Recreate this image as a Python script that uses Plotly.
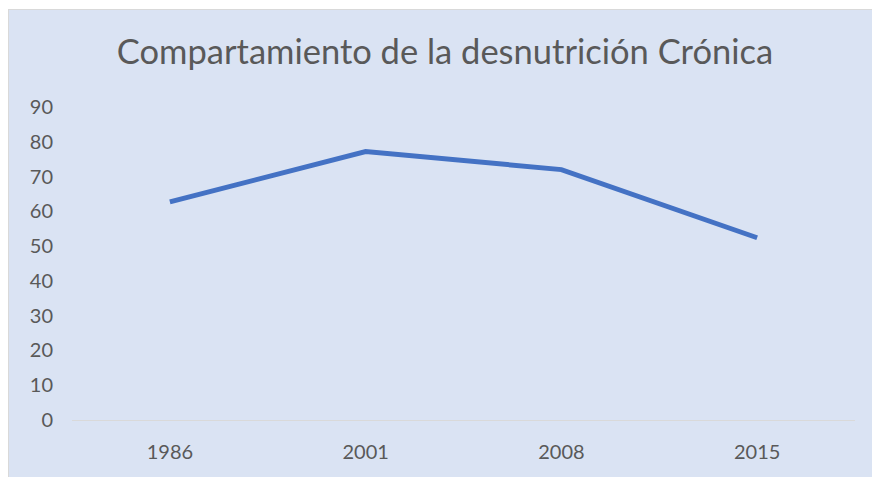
import plotly.graph_objects as go

years = ["1986", "2001", "2008", "2015"]
values = [62.7, 77.2, 72.0, 52.4]
y_ticks = [0, 10, 20, 30, 40, 50, 60, 70, 80, 90]
title_text = "Compartamiento de la desnutrición Crónica"

W, H = 872, 477
L, R, T, B = 72, 17, 107, 57
pw, ph = W - L - R, H - T - B

def px_x(px):
    return (px - L) / pw

def px_y(py):
    return (H - B - py) / ph

fig = go.Figure()
fig.add_trace(go.Scatter(
    x=years, y=values, mode="lines",
    line=dict(color="#4472c4", width=5),
    hoverinfo="x+y",
))

# white outer margin on the left and top, then the chart-area border
fig.add_shape(type="rect", xref="paper", yref="paper",
              x0=px_x(-2), x1=px_x(8), y0=px_y(H + 2), y1=px_y(-2),
              fillcolor="white", line=dict(width=0), layer="below")
fig.add_shape(type="rect", xref="paper", yref="paper",
              x0=px_x(-2), x1=px_x(W + 2), y0=px_y(9), y1=px_y(-2),
              fillcolor="white", line=dict(width=0), layer="below")
fig.add_shape(type="line", xref="paper", yref="paper",
              x0=px_x(8.5), x1=px_x(8.5), y0=px_y(H + 2), y1=px_y(9),
              line=dict(color="#d9d9d9", width=1), layer="below")
fig.add_shape(type="line", xref="paper", yref="paper",
              x0=px_x(8), x1=px_x(W + 2), y0=px_y(9.5), y1=px_y(9.5),
              line=dict(color="#d9d9d9", width=1), layer="below")

fig.update_layout(
    width=W, height=H,
    margin=dict(l=L, r=R, t=T, b=B),
    paper_bgcolor="#dae3f3",
    plot_bgcolor="rgba(0,0,0,0)",
    showlegend=False,
    font=dict(family="Lato", color="#595959"),
    title=dict(text=title_text, x=445 / W, xref="container", xanchor="center",
               y=1 - 52 / H, yref="container", yanchor="middle",
               font=dict(family="Lato", size=34.5, color="#595959")),
    xaxis=dict(type="category", range=[-0.5, 3.5], showgrid=False,
               showline=True, linecolor="#d9d9d9", linewidth=1,
               ticks="", tickfont=dict(size=20, color="#595959"),
               ticklabelstandoff=14, zeroline=False, fixedrange=True),
    yaxis=dict(range=[0, 90], tickvals=y_ticks, showgrid=False,
               showline=False, zeroline=False, ticks="",
               tickfont=dict(size=20, color="#595959"),
               ticklabelstandoff=18, fixedrange=True),
)

fig.write_html(
    "out.html",
    config={"displayModeBar": False},
    post_script="document.body.style.margin='0';document.body.style.overflow='hidden';",
)
